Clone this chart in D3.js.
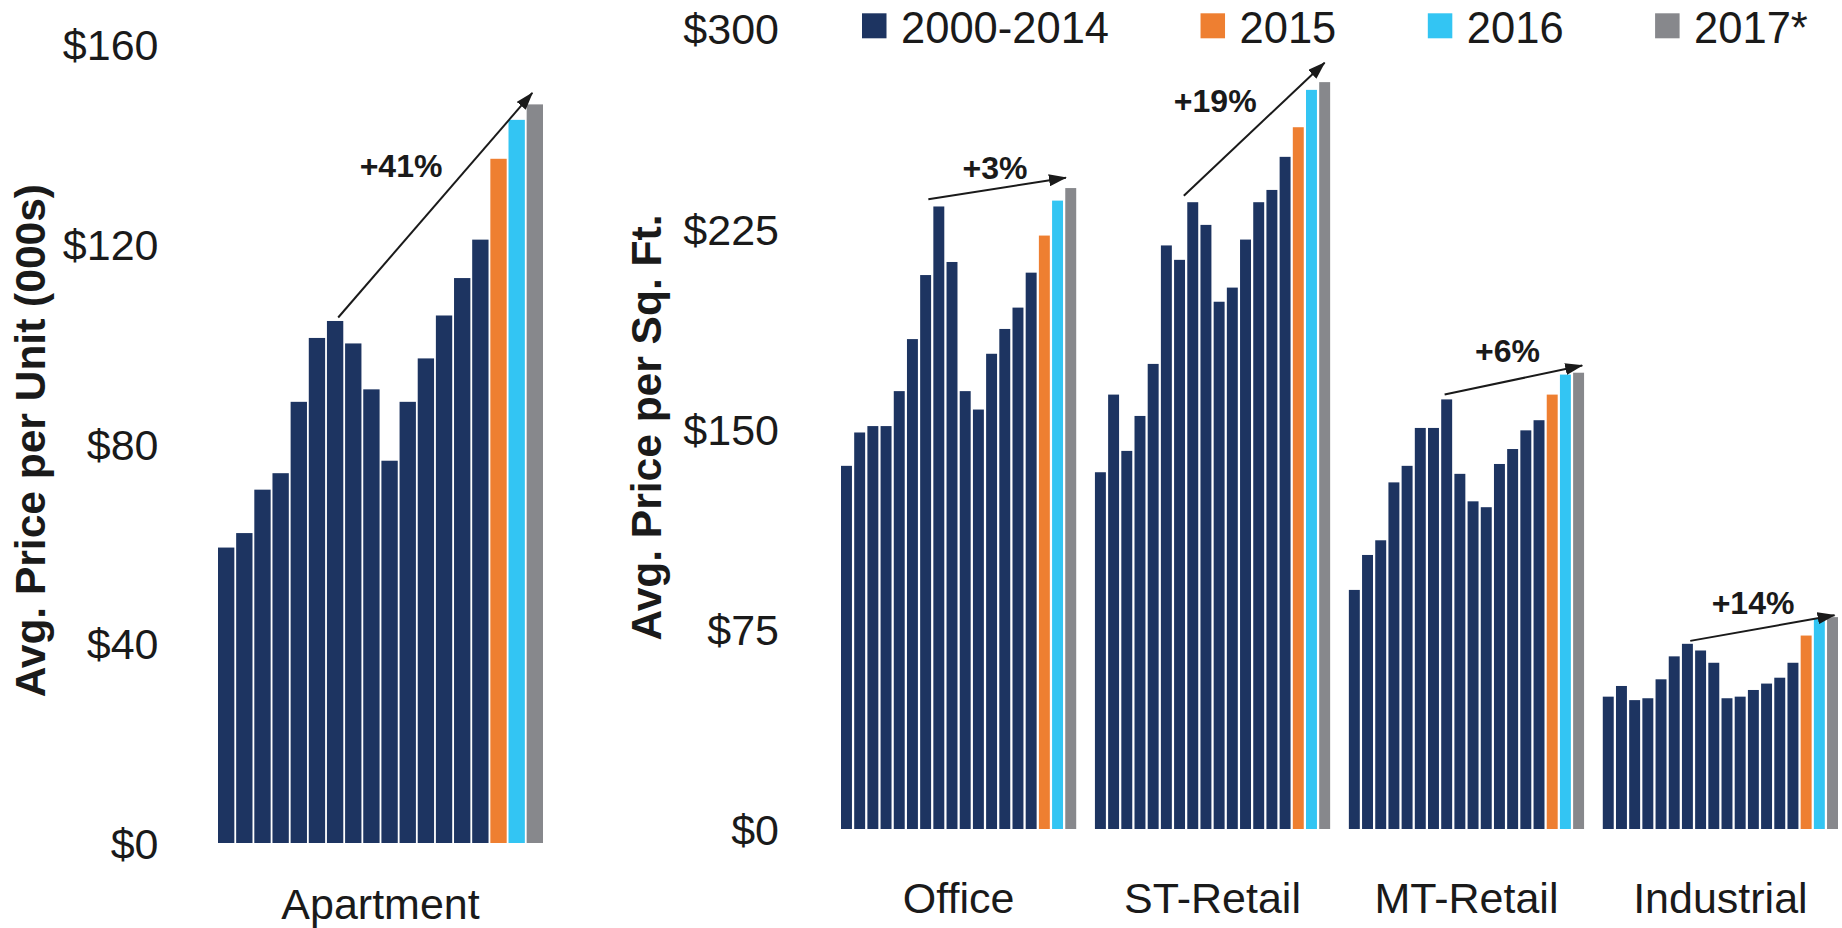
<!DOCTYPE html>
<html>
<head>
<meta charset="utf-8">
<script src="https://cdn.jsdelivr.net/npm/d3@7"></script>
<style>
  body { margin: 0; background: #fff; }
  text { font-family: "Liberation Sans", Arial, Helvetica, sans-serif; }
</style>
</head>
<body>
<div id="plot_div"></div>
<script>
const width  = 1842;
const height = 928;

// -----------------------------------------//
// data
// -----------------------------------------//
const years   = ["2000","2001","2002","2003","2004","2005","2006","2007","2008",
                 "2009","2010","2011","2012","2013","2014","2015","2016","2017"];
const series  = ["2000-2014", "2015", "2016", "2017*"];
const colors  = ["#1d3461", "#ee7f31", "#33c5f3", "#87888c"];

// avg price per unit (000s)
const apartment  = [59.2, 62.1, 70.8, 74.1, 88.4, 101.2, 104.6, 100.1, 90.9,
                    76.6, 88.4, 97.1, 105.7, 113.2, 120.9, 137.1, 144.9, 148.0];

// avg price per sq. ft.
const sectors    = ["Office", "ST-Retail", "MT-Retail", "Industrial"];
const office     = [136.1, 148.6, 151.0, 151.0, 164.1, 183.6, 207.6, 233.3, 212.5,
                    164.1, 157.2, 178.1, 187.4, 195.4, 208.5, 222.4, 235.5, 240.2];
const stRetail   = [133.7, 162.8, 141.7, 154.8, 174.3, 218.7, 213.3, 234.9, 226.4,
                    197.6, 202.9, 220.9, 234.9, 239.5, 251.9, 263.0, 277.0, 279.9];
const mtRetail   = [89.6, 102.7, 108.2, 129.9, 136.1, 150.3, 150.3, 161.0, 133.1,
                    122.8, 120.6, 136.8, 142.4, 149.4, 153.2, 162.8, 170.3, 171.0];
const industrial = [49.6, 53.6, 48.3, 49.0, 56.1, 64.7, 69.4, 66.9, 62.3,
                    49.0, 49.6, 52.1, 54.5, 56.7, 62.3, 72.5, 78.7, 79.4];

const leftTicks  = [0, 40, 80, 120, 160];
const rightTicks = [0, 75, 150, 225, 300];

// growth arrows: Apartment, Office, ST-Retail, MT-Retail, Industrial
// [bar slot, value] in chart units
const growthText = ["+41%", "+3%", "+19%", "+6%", "+14%"];
const arrowFrom  = [[6.62, 105.3], [6.62, 236.0], [6.74, 237.3], [7.26, 162.8], [6.63, 70.5]];
const arrowTo    = [[17.31, 150.3], [17.05, 244.1], [17.41, 287.2], [17.69, 173.7], [17.57, 80.1]];
const labelAt    = [[10.08, 133.5], [11.68, 243.5], [9.12, 268.6], [12.03, 175.0], [11.39, 80.7]];

// -----------------------------------------//
// layout
// -----------------------------------------//
const fontSize = 43;
const textColor = "#1a1a1a";
const rightData = [office, stRetail, mtRetail, industrial];

function colorOf(i){
    return i < 15 ? colors[0] : colors[i - 14];
}

const svg = d3.create("svg")
      .attr("width", width)
      .attr("height", height)
      .attr("viewBox", [0, 0, width, height])
      .style("background", "#fff");

// attach now so text can be measured
document.getElementById("plot_div").append(svg.node());

svg.append("defs").append("marker")
    .attr("id", "arrowhead")
    .attr("viewBox", "0 0 18 12")
    .attr("refX", 17)
    .attr("refY", 6)
    .attr("markerWidth", 18)
    .attr("markerHeight", 12)
    .attr("markerUnits", "userSpaceOnUse")
    .attr("orient", "auto")
    .append("path")
    .attr("d", "M0,0L18,6L0,12Z")
    .attr("fill", textColor);

// -----------------------------------------//
// scales
// -----------------------------------------//
const yLeft = d3.scaleLinear().domain([0, 160]).range([843, 44.5]);
const xApt  = d3.scaleBand().domain(years).range([218, 543]).paddingInner(0.1);
const xAptCat = d3.scaleBand().domain(["Apartment"]).range([218, 543]);

const yRight = d3.scaleLinear().domain([0, 300]).range([829, 28.5]);
const xSector = d3.scaleBand().domain(sectors).range([841, 1838]).paddingInner(0.0737);
const xYear   = d3.scaleBand().domain(years).range([0, xSector.bandwidth()]).paddingInner(0.17);

function styleAxis(g){
    g.select(".domain").remove();
    g.attr("font-size", fontSize)
     .attr("font-family", "'Liberation Sans', Arial, sans-serif")
     .attr("color", textColor);
}

// -----------------------------------------//
// left chart: Apartment
// -----------------------------------------//
svg.append("g")
    .attr("transform", "translate(158.5,0)")
    .call(d3.axisLeft(yLeft).tickValues(leftTicks).tickSize(0).tickPadding(0)
          .tickFormat(d => "$" + d))
    .call(styleAxis)
    .selectAll("text").attr("dy", "0.36em");

svg.append("g")
    .attr("transform", `translate(0,${yLeft(0)})`)
    .call(d3.axisBottom(xAptCat).tickSize(0).tickPadding(45.5))
    .call(styleAxis);

svg.append("text")
    .attr("transform", "translate(44.6,440.7) rotate(-90)")
    .attr("text-anchor", "middle")
    .attr("font-size", 42.5)
    .attr("font-weight", "bold")
    .attr("fill", textColor)
    .text("Avg. Price per Unit (000s)");

svg.append("g").selectAll("rect")
    .data(apartment)
    .join("rect")
    .attr("x", (d, i) => xApt(years[i]))
    .attr("y", d => yLeft(d))
    .attr("width", xApt.bandwidth())
    .attr("height", d => yLeft(0) - yLeft(d))
    .attr("fill", (d, i) => colorOf(i));

// -----------------------------------------//
// right chart: price per sq. ft.
// -----------------------------------------//
svg.append("g")
    .attr("transform", "translate(779,0)")
    .call(d3.axisLeft(yRight).tickValues(rightTicks).tickSize(0).tickPadding(0)
          .tickFormat(d => "$" + d))
    .call(styleAxis)
    .selectAll("text").attr("dy", "0.36em");

svg.append("g")
    .attr("transform", `translate(0,${yRight(0)})`)
    .call(d3.axisBottom(xSector).tickSize(0).tickPadding(53.8))
    .call(styleAxis);

svg.append("text")
    .attr("transform", "translate(661,427.5) rotate(-90)")
    .attr("text-anchor", "middle")
    .attr("font-size", 42.5)
    .attr("font-weight", "bold")
    .attr("fill", textColor)
    .text("Avg. Price per Sq. Ft.");

const groups = svg.append("g").selectAll("g")
    .data(sectors)
    .join("g")
    .attr("transform", d => `translate(${xSector(d)},0)`);

groups.selectAll("rect")
    .data((d, k) => rightData[k])
    .join("rect")
    .attr("x", (d, i) => xYear(years[i]))
    .attr("y", d => yRight(d))
    .attr("width", xYear.bandwidth())
    .attr("height", d => yRight(0) - yRight(d))
    .attr("fill", (d, i) => colorOf(i));

// -----------------------------------------//
// growth arrows
// -----------------------------------------//
function slotX(k, pos){
    if (k == 0) return xApt(years[0]) + pos * xApt.step();
    return xSector(sectors[k - 1]) + xYear(years[0]) + pos * xYear.step();
}
function valY(k, v){
    return k == 0 ? yLeft(v) : yRight(v);
}

growthText.forEach((label, k) => {
    svg.append("line")
        .attr("x1", slotX(k, arrowFrom[k][0]))
        .attr("y1", valY(k, arrowFrom[k][1]))
        .attr("x2", slotX(k, arrowTo[k][0]))
        .attr("y2", valY(k, arrowTo[k][1]))
        .attr("stroke", textColor)
        .attr("stroke-width", 2)
        .attr("marker-end", "url(#arrowhead)");

    svg.append("text")
        .attr("x", slotX(k, labelAt[k][0]))
        .attr("y", valY(k, labelAt[k][1]))
        .attr("text-anchor", "middle")
        .attr("font-size", 32)
        .attr("font-weight", "bold")
        .attr("fill", textColor)
        .text(label);
});

// -----------------------------------------//
// legend
// -----------------------------------------//
const legend = svg.append("g");
let cursor = 862;
series.forEach((name, i) => {
    legend.append("rect")
        .attr("x", cursor)
        .attr("y", 13.3)
        .attr("width", 24.5)
        .attr("height", 25)
        .attr("fill", colors[i]);
    const t = legend.append("text")
        .attr("x", cursor + 39)
        .attr("y", 42.7)
        .attr("font-size", 43.5)
        .attr("fill", textColor)
        .text(name);
    cursor = cursor + 39 + t.node().getComputedTextLength() + 91.5;
});
</script>
</body>
</html>
